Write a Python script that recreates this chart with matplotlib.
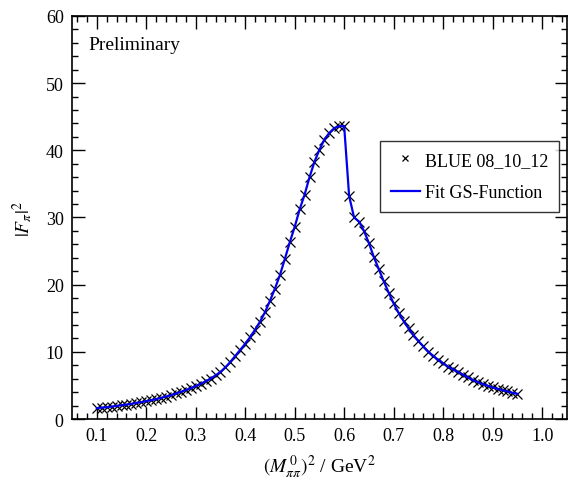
import matplotlib
matplotlib.use("Agg")
import matplotlib.pyplot as plt
from matplotlib.ticker import MultipleLocator
import numpy as np

plt.rcParams['font.family'] = ['Liberation Serif', 'DejaVu Serif']
plt.rcParams['mathtext.fontset'] = 'stix'

# s = M^2 in GeV^2, points every 0.01 from 0.10 to 0.95
s_vals = np.round(np.arange(0.10, 0.951, 0.01), 2)

# |F_pi|^2
ff_vals = [1.6, 1.7, 1.75, 1.85, 1.95, 2.05, 2.15, 2.25, 2.4, 2.5,      # 0.10-0.19
           2.65, 2.8, 2.95, 3.15, 3.35, 3.55, 3.8, 4.05, 4.3, 4.6,      # 0.20-0.29
           4.9, 5.25, 5.6, 6.0, 6.5, 7.0, 7.7, 8.5, 9.4, 10.3,          # 0.30-0.39
           11.2, 12.2, 13.3, 14.5, 15.9, 17.6, 19.4, 21.4, 23.8, 26.3,  # 0.40-0.49
           28.6, 31.2, 33.4, 36.0, 38.3, 40.1, 41.6, 42.6, 43.3, 43.6,  # 0.50-0.59
           43.6, 33.2, 30.0, 29.4, 28.0, 26.2, 24.1, 22.3, 20.5, 18.8,  # 0.60-0.69
           17.2, 15.8, 14.6, 13.5, 12.5, 11.6, 10.8, 10.0, 9.4, 8.8,    # 0.70-0.79
           8.3, 7.8, 7.4, 7.0, 6.6, 6.2, 5.8, 5.5, 5.2, 4.95,           # 0.80-0.89
           4.7, 4.5, 4.3, 4.1, 3.9, 3.75]                                # 0.90-0.95

# GS fit evaluated at the same points
fit_vals = ff_vals

fig = plt.figure(figsize=(5.79, 4.85), dpi=100)
ax = fig.add_axes([0.1244, 0.134, 0.8546, 0.831])

ax.plot(s_vals, ff_vals, linestyle='none', marker='x', color='black',
        markersize=6.5, markeredgewidth=0.9, label='BLUE 08_10_12', zorder=2)
ax.plot(s_vals, fit_vals, color='#0000ee', linewidth=1.6,
        label='Fit GS-Function', zorder=3)

ax.set_xlim(0.05, 1.05)
ax.set_ylim(0, 60)
ax.xaxis.set_major_locator(MultipleLocator(0.1))
ax.xaxis.set_minor_locator(MultipleLocator(0.02))
ax.yaxis.set_major_locator(MultipleLocator(10))
ax.yaxis.set_minor_locator(MultipleLocator(2))
ax.set_xticks(np.round(np.arange(0.1, 1.01, 0.1), 1))
ax.set_xticklabels([f"{v:.1f}" for v in np.arange(0.1, 1.01, 0.1)])

ax.tick_params(which='both', direction='in', top=True, right=True,
               labelsize=13, width=1.0, pad=6)
ax.tick_params(which='major', length=9)
ax.tick_params(which='minor', length=4.5)
for sp in ax.spines.values():
    sp.set_linewidth(1.2)

ax.set_xlabel(r'$(M^{\,0}_{\pi\pi})^2$ / GeV$^2$', fontsize=14, labelpad=6)
ax.set_ylabel(r'$|F_{\pi}|^2$', fontsize=14, labelpad=8)

ax.text(0.084, 55.8, 'Preliminary', fontsize=14, va='center', ha='left')

leg = ax.legend(loc='upper left', bbox_to_anchor=(0.622, 0.69), fontsize=13,
                frameon=True, fancybox=False, edgecolor='black',
                borderaxespad=0, handlelength=1.6, borderpad=0.6,
                labelspacing=0.85, handletextpad=0.3, markerscale=0.75)
leg.get_frame().set_linewidth(1.0)

fig.savefig('out.png', dpi=100)
